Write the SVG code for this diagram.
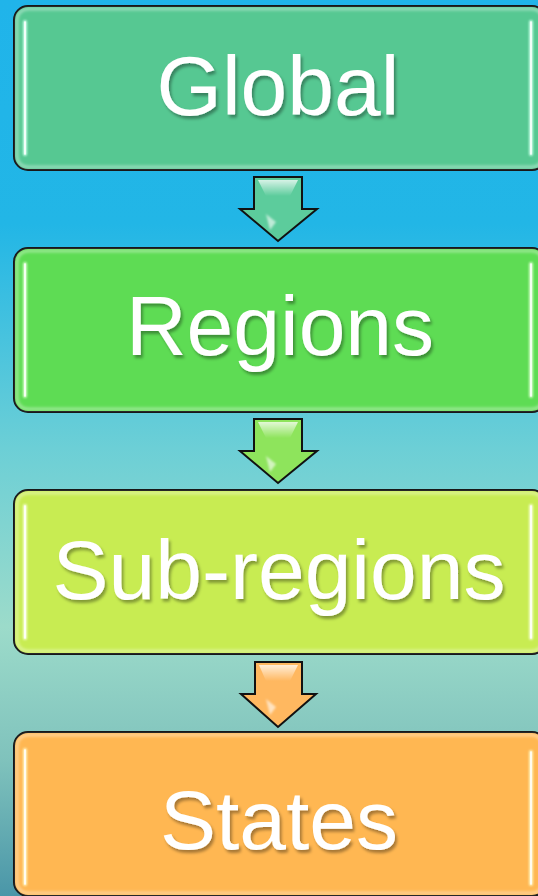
<svg xmlns="http://www.w3.org/2000/svg" width="538" height="896" viewBox="0 0 538 896">
  <defs>
    <linearGradient id="bg" x1="0" y1="0" x2="0" y2="1">
      <stop offset="0" stop-color="#20b4ea"/>
      <stop offset="0.25" stop-color="#22b6e6"/>
      <stop offset="0.5" stop-color="#6ccfd6"/>
      <stop offset="0.7" stop-color="#9cdbca"/>
      <stop offset="0.85" stop-color="#7fc2bc"/>
      <stop offset="1" stop-color="#4a96a8"/>
    </linearGradient>
    <filter id="txtShadow" x="-10%" y="-20%" width="130%" height="150%">
      <feDropShadow dx="2" dy="3" stdDeviation="1.5" flood-color="#000" flood-opacity="0.35"/>
    </filter>
    <filter id="glow" x="-200%" y="-10%" width="500%" height="120%">
      <feGaussianBlur stdDeviation="1.2"/>
    </filter>
    <filter id="soft" x="-20%" y="-20%" width="140%" height="140%">
      <feGaussianBlur stdDeviation="1.5"/>
    </filter>
    <linearGradient id="shaftHi" x1="0" y1="0" x2="0" y2="1">
      <stop offset="0" stop-color="#fff" stop-opacity="0.75"/>
      <stop offset="1" stop-color="#fff" stop-opacity="0"/>
    </linearGradient>
  </defs>
  <style>
    .box { stroke: #111; stroke-width: 2; }
    .inner { fill: none; stroke: #fff; stroke-opacity: 0.45; stroke-width: 2.5; }
    .hl { stroke-width: 4; stroke-linecap: round; }
    .hlc { stroke: #fff; stroke-width: 1.6; stroke-linecap: round; }
    .label { font-family: "Liberation Sans", Arial, sans-serif; font-size: 84px; fill: #fff; text-anchor: middle; }
    .arrow { stroke: #111; stroke-width: 2; stroke-linejoin: miter; }
  </style>

  <rect x="0" y="0" width="538" height="896" fill="url(#bg)"/>

  <g id="node-global">
    <rect class="box" x="14" y="6" width="532" height="164" rx="14" fill="#56c892"/>
    <rect class="inner" x="17" y="9" width="526" height="158" rx="11" filter="url(#soft)"/>
    <g filter="url(#glow)">
      <line class="hl" x1="25" y1="22" x2="25" y2="154" stroke="#c8ffe8"/>
      <line class="hl" x1="531" y1="22" x2="531" y2="154" stroke="#c8ffe8"/>
    </g>
    <line class="hlc" x1="25" y1="22" x2="25" y2="154"/>
    <line class="hlc" x1="531" y1="22" x2="531" y2="154"/>
    <text class="label" x="278" y="115" filter="url(#txtShadow)">Global</text>
  </g>

  <g id="node-regions">
    <rect class="box" x="14" y="248" width="532" height="164" rx="14" fill="#5edc54"/>
    <rect class="inner" x="17" y="251" width="526" height="158" rx="11" filter="url(#soft)"/>
    <g filter="url(#glow)">
      <line class="hl" x1="25" y1="264" x2="25" y2="396" stroke="#d4ffc8"/>
      <line class="hl" x1="531" y1="264" x2="531" y2="396" stroke="#d4ffc8"/>
    </g>
    <line class="hlc" x1="25" y1="264" x2="25" y2="396"/>
    <line class="hlc" x1="531" y1="264" x2="531" y2="396"/>
    <text class="label" x="280" y="355" filter="url(#txtShadow)">Regions</text>
  </g>

  <g id="node-subregions">
    <rect class="box" x="14" y="490" width="532" height="164" rx="14" fill="#c8ec52"/>
    <rect class="inner" x="17" y="493" width="526" height="158" rx="11" filter="url(#soft)"/>
    <g filter="url(#glow)">
      <line class="hl" x1="25" y1="506" x2="25" y2="638" stroke="#f6ffd0"/>
      <line class="hl" x1="531" y1="506" x2="531" y2="638" stroke="#f6ffd0"/>
    </g>
    <line class="hlc" x1="25" y1="506" x2="25" y2="638"/>
    <line class="hlc" x1="531" y1="506" x2="531" y2="638"/>
    <text class="label" x="279" y="599" filter="url(#txtShadow)">Sub-regions</text>
  </g>

  <g id="node-states">
    <rect class="box" x="14" y="732" width="532" height="164" rx="14" fill="#ffb752"/>
    <rect class="inner" x="17" y="735" width="526" height="158" rx="11" filter="url(#soft)"/>
    <g filter="url(#glow)">
      <line class="hl" x1="25" y1="750" x2="25" y2="884" stroke="#fff6c0"/>
      <line class="hl" x1="531" y1="752" x2="531" y2="884" stroke="#fff6c0"/>
    </g>
    <line class="hlc" x1="25" y1="750" x2="25" y2="884"/>
    <line class="hlc" x1="531" y1="752" x2="531" y2="884"/>
    <text class="label" x="279" y="849" filter="url(#txtShadow)">States</text>
  </g>

  <g id="connectors">
    <g id="arrow-1">
      <path class="arrow" d="M254,177 H302 V209 H317 L278,241 L240,209 H254 Z" fill="#5ccc9c"/>
      <path d="M258,180 H298 L290,196 H266 Z" fill="url(#shaftHi)"/>
      <path d="M266,214 L276,222 L270,230 Z" fill="#fff" fill-opacity="0.6" filter="url(#glow)"/>
    </g>
    <g id="arrow-2">
      <path class="arrow" d="M254,419 H302 V451 H317 L278,483 L240,451 H254 Z" fill="#8ee45c"/>
      <path d="M258,422 H298 L290,438 H266 Z" fill="url(#shaftHi)"/>
      <path d="M266,456 L276,464 L270,472 Z" fill="#fff" fill-opacity="0.6" filter="url(#glow)"/>
    </g>
    <g id="arrow-3">
      <path class="arrow" d="M255,662 H302 V694 H316 L278,727 L241,694 H255 Z" fill="#ffb860"/>
      <path d="M259,665 H298 L290,681 H266 Z" fill="url(#shaftHi)"/>
      <path d="M266,699 L276,707 L270,715 Z" fill="#fff" fill-opacity="0.6" filter="url(#glow)"/>
    </g>
  </g>
</svg>
